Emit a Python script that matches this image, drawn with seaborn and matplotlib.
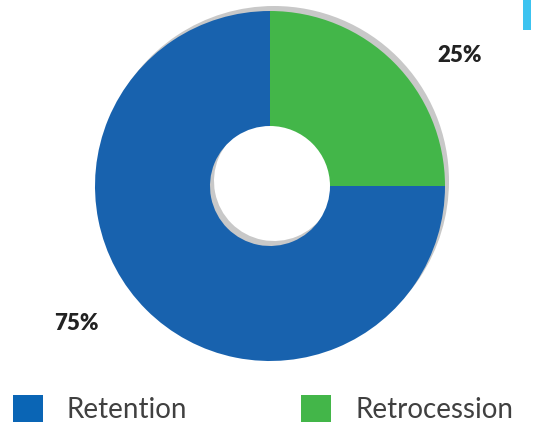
import matplotlib
matplotlib.use("Agg")
import matplotlib.pyplot as plt
from matplotlib.patches import Patch, Rectangle
import seaborn as sns

categories = ["Retrocession", "Retention"]
shares = [25, 75]
colors = ["#43B649", "#1862AE"]
legend_order = ["Retention", "Retrocession"]
legend_colors = ["#0A65B5", "#43B649"]

sns.set_theme(style="white")
plt.rcParams['font.family'] = ['Lato', 'DejaVu Sans']

W, H = 533, 424
fig = plt.figure(figsize=(W / 100, H / 100), dpi=100)
ax = fig.add_axes([0, 0, 1, 1])

cx, cy = 270, H - 186
R, r_in = 175, 60

# shadow
ax.pie(shares, colors=["#C8C8C8"] * len(shares), startangle=90, counterclock=False,
       radius=R, center=(cx + 4, cy + 5),
       wedgeprops=dict(width=R - r_in, linewidth=0))
# main donut
ax.pie(shares, colors=colors, startangle=90, counterclock=False,
       radius=R, center=(cx, cy),
       wedgeprops=dict(width=R - r_in, linewidth=0))

ax.set_xlim(0, W)
ax.set_ylim(0, H)
ax.set_axis_off()

label_pos = {"Retrocession": (460, H - 56), "Retention": (76, H - 324)}
for cat, v in zip(categories, shares):
    x, y = label_pos[cat]
    ax.text(x, y, f"{v}%", ha="center", va="center", fontsize=16,
            fontweight="heavy", color="#222222")

# decorative light-blue bar at top right
ax.add_patch(Rectangle((523, H - 30), 8, 30, color="#3CC3F0", lw=0, clip_on=False))

handles = [Patch(facecolor=c, edgecolor="none") for c in legend_colors]
leg = fig.legend(handles, legend_order, loc="lower left",
                 bbox_to_anchor=(13 / W, 1 / H), ncol=2, frameon=False,
                 fontsize=20, handlelength=1.08, handleheight=1.15,
                 handletextpad=0.86, columnspacing=4.1, borderpad=0,
                 borderaxespad=0)
for t in leg.get_texts():
    t.set_color("#404040")

fig.savefig("out.png", dpi=100)
